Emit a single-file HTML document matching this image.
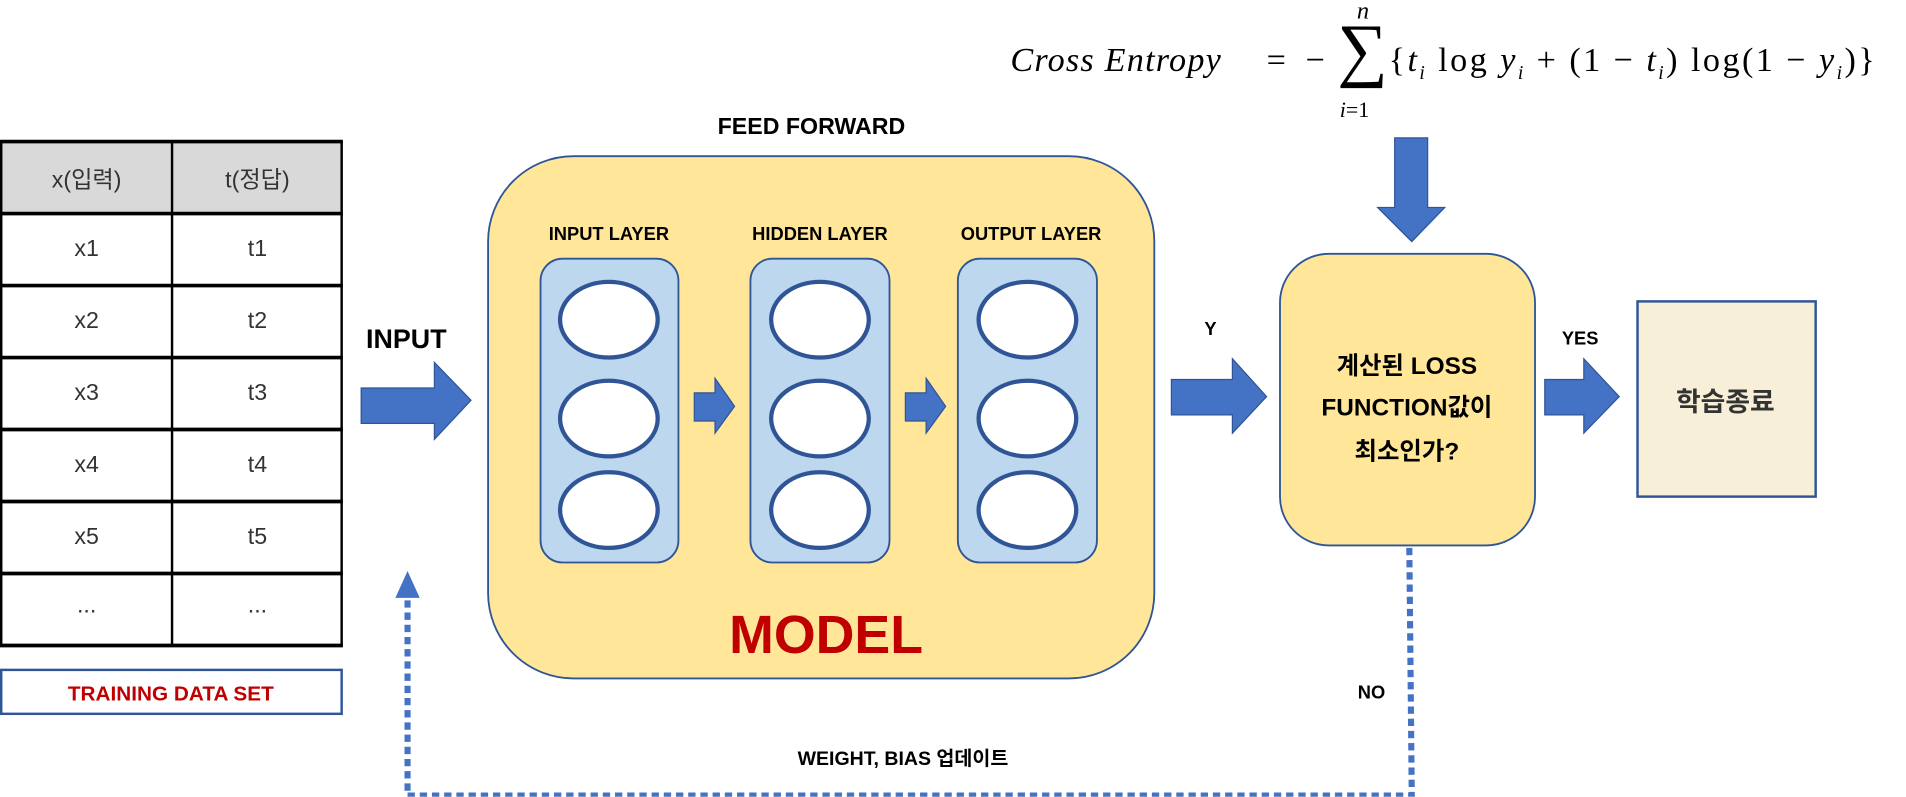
<!DOCTYPE html>
<html><head><meta charset="utf-8"><style>
body{margin:0;background:#fff;width:1906px;height:797px;overflow:hidden}
#s{position:absolute;left:0;top:0;width:1562px;height:653px;transform:scale(1.2202);transform-origin:0 0;font-family:"Liberation Sans Narrow","Liberation Sans","Noto Sans CJK KR",sans-serif}
.t{position:absolute;white-space:nowrap;transform:translate(-50%,-50%);font-weight:bold}
.c{font-family:"Liberation Sans","Noto Sans CJK KR",sans-serif;font-weight:normal;color:#333;font-size:19px}
.f{position:absolute;font-family:'Liberation Serif',serif;white-space:nowrap}
</style></head><body><div id="s">
<svg width="1562" height="653" style="position:absolute;left:0;top:0">
<rect x="0" y="116" width="281" height="59" fill="#d9d9d9"/>
<g stroke="#000" stroke-width="2">
<line x1="0" y1="116" x2="281" y2="116" stroke-width="3"/>
<line x1="0" y1="175" x2="281" y2="175" stroke-width="3"/>
<line x1="0" y1="234" x2="281" y2="234" stroke-width="3"/>
<line x1="0" y1="293" x2="281" y2="293" stroke-width="3"/>
<line x1="0" y1="352" x2="281" y2="352" stroke-width="3"/>
<line x1="0" y1="411" x2="281" y2="411" stroke-width="3"/>
<line x1="0" y1="470" x2="281" y2="470" stroke-width="3"/>
<line x1="0" y1="529" x2="281" y2="529" stroke-width="3"/>
<line x1="1" y1="116" x2="1" y2="529"/><line x1="141" y1="116" x2="141" y2="529"/><line x1="280" y1="116" x2="280" y2="529"/>
</g>
<rect x="1" y="549" width="279" height="36" fill="#fff" stroke="#2f5597" stroke-width="2"/>
<rect x="400" y="128" width="546" height="428" rx="70" fill="#ffe699" stroke="#2f5597" stroke-width="1.5"/>
<g fill="#bdd7ee" stroke="#2f5597" stroke-width="1.5">
<rect x="443" y="212" width="113" height="249" rx="18"/><rect x="615" y="212" width="114" height="249" rx="18"/><rect x="785" y="212" width="114" height="249" rx="18"/></g>
<g fill="#fff" stroke="#2f5597" stroke-width="3.5">
<ellipse cx="499" cy="262" rx="40" ry="31"/><ellipse cx="499" cy="343" rx="40" ry="31"/><ellipse cx="499" cy="418" rx="40" ry="31"/>
<ellipse cx="672" cy="262" rx="40" ry="31"/><ellipse cx="672" cy="343" rx="40" ry="31"/><ellipse cx="672" cy="418" rx="40" ry="31"/>
<ellipse cx="842" cy="262" rx="40" ry="31"/><ellipse cx="842" cy="343" rx="40" ry="31"/><ellipse cx="842" cy="418" rx="40" ry="31"/></g>
<g fill="#4472c4" stroke="#2f5597" stroke-width="1">
<polygon points="296,318 356,318 356,297 386,328 356,360 356,347 296,347"/>
<polygon points="569,322 586,322 586,310 602,333 586,355 586,345 569,345"/>
<polygon points="742,322 759,322 759,310 775,333 759,355 759,345 742,345"/>
<polygon points="960,311 1010,311 1010,294 1038,325 1010,355 1010,340 960,340"/>
<polygon points="1266,311 1298,311 1298,294 1327,325 1298,355 1298,340 1266,340"/>
<polygon points="1143,113 1170,113 1170,170 1184,170 1157,198 1129,170 1143,170"/>
</g>
<rect x="1049" y="208" width="209" height="239" rx="40" fill="#ffe699" stroke="#2f5597" stroke-width="1.5"/>
<rect x="1342" y="247" width="146" height="160" fill="#f8efd8" stroke="#2f5597" stroke-width="2"/>
<g fill="none" stroke="#4472c4" stroke-width="5" stroke-dasharray="6 4">
<polyline points="1155,449 1157,652 334,652 334,490"/></g>
<polygon points="324,490 344,490 334,468" fill="#4472c4"/>
</svg>
<div class="t c" style="left:71px;top:146px">x(입력)</div><div class="t c" style="left:211px;top:146px">t(정답)</div>
<div class="t c" style="left:71px;top:205px">x1</div><div class="t c" style="left:211px;top:205px">t1</div>
<div class="t c" style="left:71px;top:264px">x2</div><div class="t c" style="left:211px;top:264px">t2</div>
<div class="t c" style="left:71px;top:323px">x3</div><div class="t c" style="left:211px;top:323px">t3</div>
<div class="t c" style="left:71px;top:382px">x4</div><div class="t c" style="left:211px;top:382px">t4</div>
<div class="t c" style="left:71px;top:441px">x5</div><div class="t c" style="left:211px;top:441px">t5</div>
<div class="t c" style="left:71px;top:497px">...</div><div class="t c" style="left:211px;top:497px">...</div>
<div class="t" style="left:140px;top:569px;color:#c00000;font-size:17px">TRAINING DATA SET</div>
<div class="t" style="left:333px;top:278px;font-size:22px">INPUT</div>
<div class="t" style="left:665px;top:105px;font-size:19px">FEED FORWARD</div>
<div class="t" style="left:499px;top:192px;font-size:15px">INPUT LAYER</div>
<div class="t" style="left:672px;top:192px;font-size:15px">HIDDEN LAYER</div>
<div class="t" style="left:845px;top:192px;font-size:15px">OUTPUT LAYER</div>
<div class="t" style="left:677px;top:521px;font-size:44px;color:#c00000">MODEL</div>
<div class="t" style="left:992px;top:270px;font-size:15px">Y</div>
<div class="t" style="left:1295px;top:278px;font-size:15px">YES</div>
<div class="t" style="left:1153px;top:298px;font-size:20px">계산된 LOSS</div>
<div class="t" style="left:1153px;top:332px;font-size:20px">FUNCTION값이</div>
<div class="t" style="left:1153px;top:368px;font-size:20px">최소인가?</div>
<div class="t" style="left:1414px;top:328px;font-size:22px;color:#333">학습종료</div>
<div class="t" style="left:1124px;top:568px;font-size:15px">NO</div>
<div class="t" style="left:740px;top:620px;font-size:16px">WEIGHT, BIAS 업데이트</div>
<div class="f" style="left:828px;top:34px;font-style:italic;font-size:28px;letter-spacing:1px">Cross Entropy</div>
<div class="f" style="left:1038px;top:34px;font-size:28px">=</div>
<div class="f" style="left:1070px;top:34px;font-size:28px">−</div>
<div class="f" style="left:1096px;top:12px;font-size:58px;line-height:1">∑</div>
<div class="f" style="left:1112px;top:-2px;font-style:italic;font-size:20px">n</div>
<div class="f" style="left:1098px;top:80px;font-size:18px"><i>i</i>=1</div>
<div class="f" style="left:1138px;top:34px;font-size:28px;letter-spacing:2px">{<i>t<sub style="font-size:16px">i</sub></i> log <i>y<sub style="font-size:16px">i</sub></i> + (1 − <i>t<sub style="font-size:16px">i</sub></i>) log(1 − <i>y<sub style="font-size:16px">i</sub></i>)}</div>
</div></body></html>
